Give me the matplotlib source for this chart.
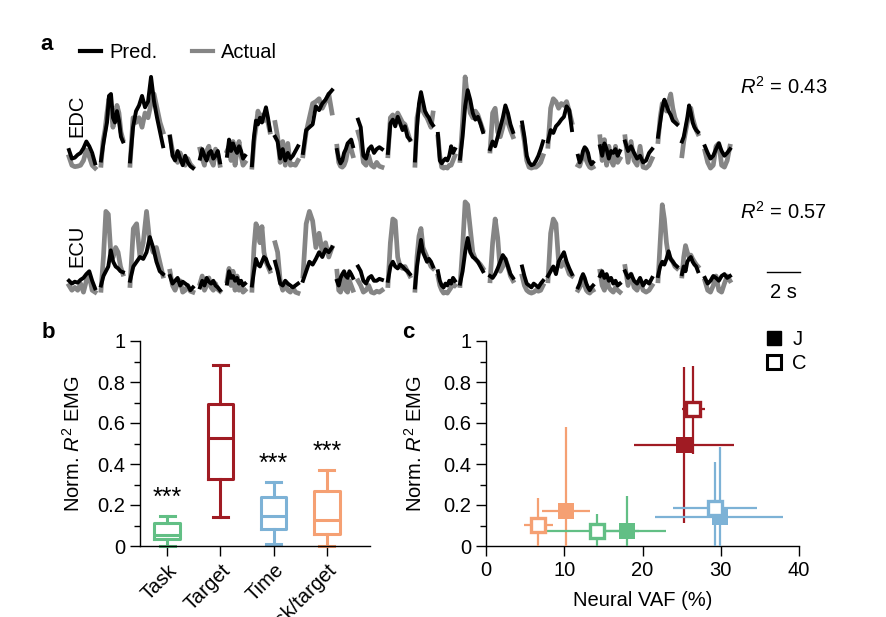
import numpy as np
import matplotlib
matplotlib.use("Agg")
import matplotlib.pyplot as plt
from matplotlib.lines import Line2D

plt.rcParams['font.family'] = ['Liberation Sans', 'DejaVu Sans']
plt.rcParams['mathtext.fontset'] = 'custom'
plt.rcParams['mathtext.rm'] = 'Liberation Sans'
plt.rcParams['mathtext.it'] = 'Liberation Sans:italic'
plt.rcParams['font.size'] = 14.5

# --- panel a: EMG traces (normalised amplitude), one list per trial ---
seg_start = [0.06, 2.0, 3.76, 6.18, 8.0, 9.64, 11.15, 12.55, 14.24, 16.3, 17.58, 19.39,
             21.03, 22.42, 23.76, 25.58, 27.52, 29.09, 30.91, 32.24, 33.76, 35.76, 37.21, 38.6]
seg_dur = [1.58, 1.33, 2.0, 1.39, 1.21, 1.09, 1.09, 1.39, 1.76, 0.97, 1.45, 1.33,
           1.09, 1.03, 1.39, 1.39, 1.27, 1.45, 0.91, 1.21, 1.64, 1.15, 0.97, 1.52]

edc_pred = [
    [0.21, 0.12, 0.13, 0.16, 0.18, 0.23, 0.30, 0.25, 0.18, 0.07],
    [0.10, 0.25, 0.38, 0.50, 0.78, 0.80, 0.55, 0.50, 0.62, 0.52, 0.35, 0.30],
    [0.09, 0.45, 0.62, 0.68, 0.78, 0.66, 0.72, 0.98, 0.72, 0.55, 0.40, 0.25],
    [0.35, 0.15, 0.10, 0.20, 0.12, 0.05, 0.15, 0.08, 0.04, 0.02],
    [0.12, 0.22, 0.15, 0.10, 0.18, 0.20, 0.12, 0.15, 0.20, 0.08],
    [0.15, 0.32, 0.20, 0.28, 0.22, 0.18, 0.25, 0.20, 0.12, 0.15],
    [0.05, 0.35, 0.52, 0.48, 0.55, 0.50, 0.58, 0.66, 0.55, 0.42],
    [0.35, 0.30, 0.12, 0.22, 0.10, 0.18, 0.12, 0.15, 0.20, 0.25],
    [0.18, 0.42, 0.45, 0.48, 0.67, 0.63, 0.70, 0.74, 0.80, 0.84],
    [0.21, 0.12, 0.07, 0.10, 0.18, 0.22, 0.28, 0.30, 0.32, 0.25],
    [0.53, 0.45, 0.15, 0.12, 0.22, 0.25, 0.18, 0.22, 0.24, 0.22],
    [0.18, 0.49, 0.53, 0.46, 0.56, 0.49, 0.42, 0.46, 0.35, 0.32],
    [0.10, 0.45, 0.70, 0.82, 0.72, 0.62, 0.58, 0.55, 0.50, 0.47],
    [0.38, 0.10, 0.07, 0.10, 0.12, 0.10, 0.15, 0.25, 0.18, 0.22],
    [0.12, 0.35, 0.67, 0.84, 0.74, 0.60, 0.53, 0.56, 0.49, 0.40],
    [0.22, 0.30, 0.25, 0.35, 0.45, 0.55, 0.68, 0.60, 0.48, 0.40],
    [0.50, 0.35, 0.15, 0.08, 0.05, 0.06, 0.10, 0.15, 0.22, 0.30],
    [0.30, 0.42, 0.39, 0.46, 0.49, 0.53, 0.56, 0.67, 0.63, 0.42],
    [0.15, 0.08, 0.12, 0.20, 0.24, 0.22, 0.18, 0.10, 0.06, 0.08],
    [0.25, 0.15, 0.28, 0.22, 0.12, 0.20, 0.18, 0.22, 0.15, 0.20],
    [0.30, 0.20, 0.25, 0.18, 0.12, 0.15, 0.08, 0.10, 0.18, 0.22],
    [0.35, 0.50, 0.65, 0.74, 0.68, 0.62, 0.58, 0.52, 0.50, 0.48],
    [0.30, 0.35, 0.45, 0.55, 0.68, 0.60, 0.50, 0.45, 0.42, 0.40],
    [0.25, 0.18, 0.12, 0.15, 0.22, 0.28, 0.20, 0.15, 0.18, 0.22],
]
edc_actual = [
    [0.14, 0.05, 0.035, 0.04, 0.05, 0.10, 0.21, 0.14, 0.05, 0.02],
    [0.05, 0.30, 0.42, 0.60, 0.75, 0.65, 0.45, 0.55, 0.68, 0.60, 0.40, 0.32],
    [0.05, 0.55, 0.50, 0.55, 0.45, 0.60, 0.55, 0.70, 0.80, 0.65, 0.50, 0.40],
    [0.35, 0.20, 0.15, 0.08, 0.18, 0.10, 0.05, 0.12, 0.06, 0.03],
    [0.22, 0.12, 0.05, 0.20, 0.25, 0.10, 0.05, 0.22, 0.18, 0.05],
    [0.20, 0.25, 0.10, 0.30, 0.05, 0.20, 0.30, 0.15, 0.05, 0.08],
    [0.03, 0.30, 0.45, 0.62, 0.55, 0.58, 0.52, 0.60, 0.50, 0.40],
    [0.50, 0.35, 0.08, 0.30, 0.05, 0.28, 0.05, 0.06, 0.05, 0.10],
    [0.15, 0.40, 0.55, 0.70, 0.72, 0.75, 0.65, 0.72, 0.80, 0.60],
    [0.25, 0.08, 0.04, 0.03, 0.05, 0.10, 0.20, 0.25, 0.22, 0.15],
    [0.40, 0.30, 0.08, 0.05, 0.15, 0.05, 0.03, 0.08, 0.04, 0.03],
    [0.15, 0.55, 0.58, 0.50, 0.60, 0.55, 0.50, 0.48, 0.40, 0.32],
    [0.05, 0.55, 0.65, 0.70, 0.62, 0.58, 0.55, 0.50, 0.45, 0.60],
    [0.35, 0.15, 0.03, 0.02, 0.03, 0.02, 0.05, 0.05, 0.10, 0.15],
    [0.10, 0.50, 0.98, 0.75, 0.60, 0.55, 0.62, 0.58, 0.50, 0.42],
    [0.20, 0.60, 0.65, 0.40, 0.35, 0.45, 0.58, 0.50, 0.42, 0.35],
    [0.45, 0.30, 0.10, 0.03, 0.02, 0.03, 0.03, 0.05, 0.08, 0.15],
    [0.25, 0.65, 0.75, 0.72, 0.65, 0.70, 0.68, 0.72, 0.62, 0.50],
    [0.05, 0.04, 0.10, 0.15, 0.18, 0.10, 0.06, 0.03, 0.02, 0.03],
    [0.35, 0.10, 0.32, 0.05, 0.25, 0.10, 0.05, 0.25, 0.08, 0.12],
    [0.35, 0.08, 0.30, 0.10, 0.05, 0.25, 0.03, 0.02, 0.05, 0.12],
    [0.30, 0.55, 0.70, 0.66, 0.62, 0.72, 0.80, 0.65, 0.55, 0.50],
    [0.15, 0.30, 0.40, 0.50, 0.60, 0.65, 0.55, 0.48, 0.42, 0.38],
    [0.20, 0.08, 0.02, 0.05, 0.25, 0.28, 0.05, 0.03, 0.10, 0.25],
]
ecu_pred = [
    [0.15, 0.12, 0.14, 0.13, 0.16, 0.18, 0.22, 0.25, 0.15, 0.07],
    [0.10, 0.20, 0.25, 0.30, 0.47, 0.35, 0.30, 0.28, 0.25, 0.24],
    [0.15, 0.30, 0.35, 0.40, 0.38, 0.45, 0.61, 0.50, 0.35, 0.25, 0.22],
    [0.20, 0.12, 0.15, 0.18, 0.10, 0.14, 0.12, 0.10, 0.05, 0.08],
    [0.08, 0.15, 0.10, 0.18, 0.14, 0.12, 0.15, 0.10, 0.08, 0.05],
    [0.12, 0.25, 0.18, 0.20, 0.15, 0.18, 0.12, 0.15, 0.10, 0.12],
    [0.10, 0.25, 0.38, 0.32, 0.30, 0.35, 0.40, 0.38, 0.32, 0.28],
    [0.35, 0.25, 0.12, 0.10, 0.15, 0.12, 0.10, 0.08, 0.10, 0.12],
    [0.15, 0.25, 0.35, 0.32, 0.38, 0.45, 0.40, 0.48, 0.45, 0.50],
    [0.15, 0.10, 0.18, 0.22, 0.25, 0.20, 0.18, 0.25, 0.22, 0.18],
    [0.30, 0.25, 0.15, 0.12, 0.18, 0.20, 0.15, 0.15, 0.17, 0.16],
    [0.15, 0.30, 0.35, 0.30, 0.28, 0.32, 0.30, 0.27, 0.25, 0.22],
    [0.08, 0.30, 0.45, 0.58, 0.45, 0.40, 0.35, 0.38, 0.35, 0.30],
    [0.25, 0.15, 0.10, 0.08, 0.12, 0.10, 0.15, 0.12, 0.18, 0.15],
    [0.12, 0.25, 0.45, 0.60, 0.45, 0.40, 0.38, 0.35, 0.30, 0.25],
    [0.20, 0.18, 0.22, 0.28, 0.35, 0.42, 0.38, 0.30, 0.22, 0.18],
    [0.30, 0.20, 0.12, 0.10, 0.08, 0.12, 0.10, 0.08, 0.12, 0.15],
    [0.20, 0.25, 0.30, 0.22, 0.35, 0.40, 0.45, 0.35, 0.28, 0.22],
    [0.08, 0.12, 0.18, 0.22, 0.18, 0.12, 0.08, 0.05, 0.08, 0.10],
    [0.20, 0.25, 0.18, 0.22, 0.15, 0.18, 0.12, 0.15, 0.10, 0.12],
    [0.25, 0.18, 0.22, 0.15, 0.12, 0.18, 0.10, 0.15, 0.12, 0.18],
    [0.20, 0.30, 0.35, 0.32, 0.38, 0.46, 0.38, 0.35, 0.32, 0.30],
    [0.22, 0.30, 0.25, 0.35, 0.38, 0.40, 0.35, 0.32, 0.30, 0.25],
    [0.18, 0.12, 0.15, 0.20, 0.18, 0.15, 0.20, 0.22, 0.18, 0.20],
]
ecu_actual = [
    [0.10, 0.05, 0.08, 0.05, 0.12, 0.03, 0.15, 0.20, 0.05, 0.03],
    [0.05, 0.40, 0.88, 0.85, 0.45, 0.40, 0.50, 0.45, 0.30, 0.22],
    [0.10, 0.70, 0.75, 0.40, 0.55, 0.88, 0.55, 0.45, 0.50, 0.35, 0.20],
    [0.25, 0.10, 0.05, 0.12, 0.15, 0.03, 0.05, 0.10, 0.04, 0.03],
    [0.12, 0.20, 0.05, 0.10, 0.18, 0.08, 0.05, 0.12, 0.06, 0.04],
    [0.15, 0.28, 0.10, 0.25, 0.05, 0.20, 0.05, 0.10, 0.03, 0.05],
    [0.05, 0.50, 0.75, 0.70, 0.55, 0.72, 0.45, 0.35, 0.30, 0.25],
    [0.55, 0.45, 0.15, 0.05, 0.10, 0.05, 0.03, 0.08, 0.03, 0.02],
    [0.20, 0.75, 0.88, 0.78, 0.50, 0.65, 0.45, 0.55, 0.40, 0.50],
    [0.25, 0.05, 0.03, 0.10, 0.20, 0.05, 0.03, 0.15, 0.10, 0.05],
    [0.15, 0.10, 0.03, 0.05, 0.10, 0.03, 0.02, 0.04, 0.03, 0.05],
    [0.10, 0.55, 0.80, 0.78, 0.40, 0.30, 0.28, 0.30, 0.25, 0.20],
    [0.05, 0.40, 0.62, 0.70, 0.50, 0.45, 0.40, 0.35, 0.30, 0.28],
    [0.20, 0.10, 0.05, 0.02, 0.03, 0.02, 0.05, 0.08, 0.12, 0.10],
    [0.10, 0.50, 0.98, 0.95, 0.70, 0.45, 0.38, 0.35, 0.32, 0.28],
    [0.15, 0.55, 0.80, 0.60, 0.25, 0.30, 0.38, 0.30, 0.20, 0.15],
    [0.20, 0.10, 0.05, 0.03, 0.02, 0.03, 0.05, 0.04, 0.05, 0.10],
    [0.15, 0.65, 0.80, 0.75, 0.35, 0.30, 0.35, 0.30, 0.22, 0.20],
    [0.05, 0.08, 0.12, 0.15, 0.10, 0.05, 0.03, 0.02, 0.04, 0.05],
    [0.25, 0.10, 0.05, 0.20, 0.08, 0.05, 0.03, 0.08, 0.05, 0.03],
    [0.30, 0.10, 0.22, 0.08, 0.05, 0.15, 0.05, 0.03, 0.05, 0.10],
    [0.15, 0.55, 0.95, 0.80, 0.55, 0.40, 0.38, 0.35, 0.30, 0.28],
    [0.20, 0.40, 0.52, 0.45, 0.40, 0.42, 0.38, 0.35, 0.32, 0.30],
    [0.15, 0.05, 0.03, 0.10, 0.20, 0.05, 0.03, 0.12, 0.20, 0.15],
]
r2_values = ["0.43", "0.57"]

# --- panel b: box plot stats ---
groups = ["Task", "Target", "Time", "Task/target"]
colors = ["#62BF85", "#A01B23", "#7DB2D6", "#F5A073"]
whis_lo = [0.0, 0.14, 0.01, 0.0]
q1 = [0.034, 0.325, 0.081, 0.057]
med = [0.054, 0.528, 0.146, 0.127]
q3 = [0.114, 0.695, 0.24, 0.268]
whis_hi = [0.146, 0.885, 0.313, 0.37]
signif = ["***", "", "***", "***"]

# --- panel c: VAF vs norm. R2 (J filled, C open) ---
c_group = ["Task/target", "Task/target", "Task", "Task", "Target", "Target", "Time", "Time"]
c_monkey = ["J", "C", "J", "C", "J", "C", "J", "C"]
vaf = [10.2, 6.7, 18.0, 14.2, 25.3, 26.5, 29.9, 29.3]
vaf_lo = [7.1, 4.9, 13.5, 7.6, 18.9, 25.0, 21.6, 23.9]
vaf_hi = [13.3, 8.5, 23.0, 19.5, 31.7, 28.0, 38.0, 34.6]
r2n = [0.172, 0.104, 0.075, 0.073, 0.492, 0.666, 0.143, 0.187]
r2n_lo = [0.0, 0.0, 0.0, 0.0, 0.11, 0.45, 0.0, 0.0]
r2n_hi = [0.58, 0.232, 0.243, 0.156, 0.873, 0.878, 0.484, 0.41]

W, H = 886, 617
fig = plt.figure(figsize=(W / 100, H / 100), dpi=100)


def fx(px):
    return px / W


def fy(py):
    return 1 - py / H


# ---- a ----
ax_edc = fig.add_axes([fx(68), fy(170), fx(733) - fx(68), fy(75) - fy(170)])
ax_ecu = fig.add_axes([fx(68), fy(295), fx(733) - fx(68), fy(200) - fy(295)])
for ax, pred, act in [(ax_edc, edc_pred, edc_actual), (ax_ecu, ecu_pred, ecu_actual)]:
    for s, d, p, a in zip(seg_start, seg_dur, pred, act):
        t = np.linspace(s, s + d, len(a))
        ax.plot(t, a, color="#858585", lw=3.4, solid_joinstyle="round", clip_on=False)
        t = np.linspace(s, s + d, len(p))
        ax.plot(t, p, color="black", lw=2.8, solid_joinstyle="round", clip_on=False)
    ax.set_xlim(0, 665 / 16.5)
    ax.set_ylim(0, 1)
    ax.axis("off")

fig.text(fx(77), fy(116), "EDC", rotation=90, ha="center", va="center")
fig.text(fx(77), fy(246), "ECU", rotation=90, ha="center", va="center")
fig.text(fx(740), fy(87), r"$\mathit{R}^2$ = " + r2_values[0], ha="left", va="center")
fig.text(fx(740), fy(212), r"$\mathit{R}^2$ = " + r2_values[1], ha="left", va="center")

# 2 s scale bar
bar_x = (767 - 68) / 16.5
ax_ecu.plot([bar_x, bar_x + 2], [0.24, 0.24], color="black", lw=1.0, clip_on=False)
ax_ecu.text(bar_x + 1, 0.03, "2 s", ha="center", va="center")

leg_h = [Line2D([], [], color="black", lw=3), Line2D([], [], color="#858585", lw=3)]
fig.legend(leg_h, ["Pred.", "Actual"], loc="center left", bbox_to_anchor=(fx(80), fy(53)),
           ncol=2, frameon=False, handlelength=1.05, handletextpad=0.4,
           columnspacing=1.7, borderpad=0, borderaxespad=0)

# ---- b ----
ax_b = fig.add_axes([fx(140), fy(546), fx(370) - fx(140), fy(341) - fy(546)])
stats = []
for i in range(len(groups)):
    stats.append(dict(med=med[i], q1=q1[i], q3=q3[i], whislo=whis_lo[i],
                      whishi=whis_hi[i], fliers=[]))
pos = np.arange(1, len(groups) + 1)
bp = ax_b.bxp(stats, positions=pos, widths=0.48, capwidths=0.28, showfliers=False,
              boxprops=dict(lw=2.2), medianprops=dict(lw=2.2),
              whiskerprops=dict(lw=2.2), capprops=dict(lw=2.2))
for i, c in enumerate(colors):
    bp["boxes"][i].set_color(c)
    bp["medians"][i].set_color(c)
    for j in (2 * i, 2 * i + 1):
        bp["whiskers"][j].set_color(c)
        bp["caps"][j].set_color(c)
for k in bp:
    for art in bp[k]:
        art.set_clip_on(False)
for i, s in enumerate(signif):
    if s:
        ax_b.text(pos[i], whis_hi[i] + 0.03, s, ha="center", va="bottom", fontsize=18)

ax_b.set_xlim(0.49, 4.81)
ax_b.set_ylim(0, 1)
ax_b.set_xticks(pos)
ax_b.set_xticklabels(groups, rotation=45, ha="right", rotation_mode="anchor")
ax_b.set_ylabel(r"Norm. $\mathit{R}^2$ EMG", labelpad=10)

# ---- c ----
ax_c = fig.add_axes([fx(486), fy(546), fx(799) - fx(486), fy(341) - fy(546)])
col_map = dict(zip(groups, colors))
for i in range(len(vaf)):
    c = col_map[c_group[i]]
    filled = c_monkey[i] == "J"
    ax_c.errorbar(vaf[i], r2n[i],
                  xerr=[[vaf[i] - vaf_lo[i]], [vaf_hi[i] - vaf[i]]],
                  yerr=[[r2n[i] - r2n_lo[i]], [r2n_hi[i] - r2n[i]]],
                  fmt="s", color=c, ecolor=c, elinewidth=1.6, capsize=0,
                  ms=11 if filled else 9.5, mfc=c if filled else "white", mec=c,
                  mew=0 if filled else 2.4, clip_on=False, zorder=3)
ax_c.set_xlim(0, 40)
ax_c.set_ylim(0, 1)
ax_c.set_xticks([0, 10, 20, 30, 40])
ax_c.set_xlabel("Neural VAF (%)", labelpad=8)
ax_c.set_ylabel(r"Norm. $\mathit{R}^2$ EMG", labelpad=13)

mk = [Line2D([], [], ls="", marker="s", ms=10.5, mfc="black", mec="black"),
      Line2D([], [], ls="", marker="s", ms=9.5, mfc="white", mec="black", mew=2.2)]
fig.legend(mk, ["J", "C"], loc="upper left", bbox_to_anchor=(fx(766), fy(330)),
           frameon=False, handlelength=0.8, handletextpad=0.5, labelspacing=0.25,
           borderpad=0, borderaxespad=0)

for ax in (ax_b, ax_c):
    for side in ("top", "right"):
        ax.spines[side].set_visible(False)
    for side in ("left", "bottom"):
        ax.spines[side].set_linewidth(1.0)
    ax.set_yticks([0, 0.2, 0.4, 0.6, 0.8, 1.0])
    ax.set_yticklabels(["0", "0.2", "0.4", "0.6", "0.8", "1"])
    ax.set_yticks(np.arange(0.1, 1.0, 0.2), minor=True)
    ax.tick_params(axis="both", which="major", direction="out", length=7, width=1.0)
    ax.tick_params(axis="y", which="minor", direction="out", length=4, width=1.0)

fig.text(fx(47), fy(45), "a", fontsize=16, fontweight="bold", ha="center", va="center")
fig.text(fx(48), fy(332), "b", fontsize=16, fontweight="bold", ha="center", va="center")
fig.text(fx(408), fy(332), "c", fontsize=16, fontweight="bold", ha="center", va="center")

fig.savefig("out.png", dpi=100)
